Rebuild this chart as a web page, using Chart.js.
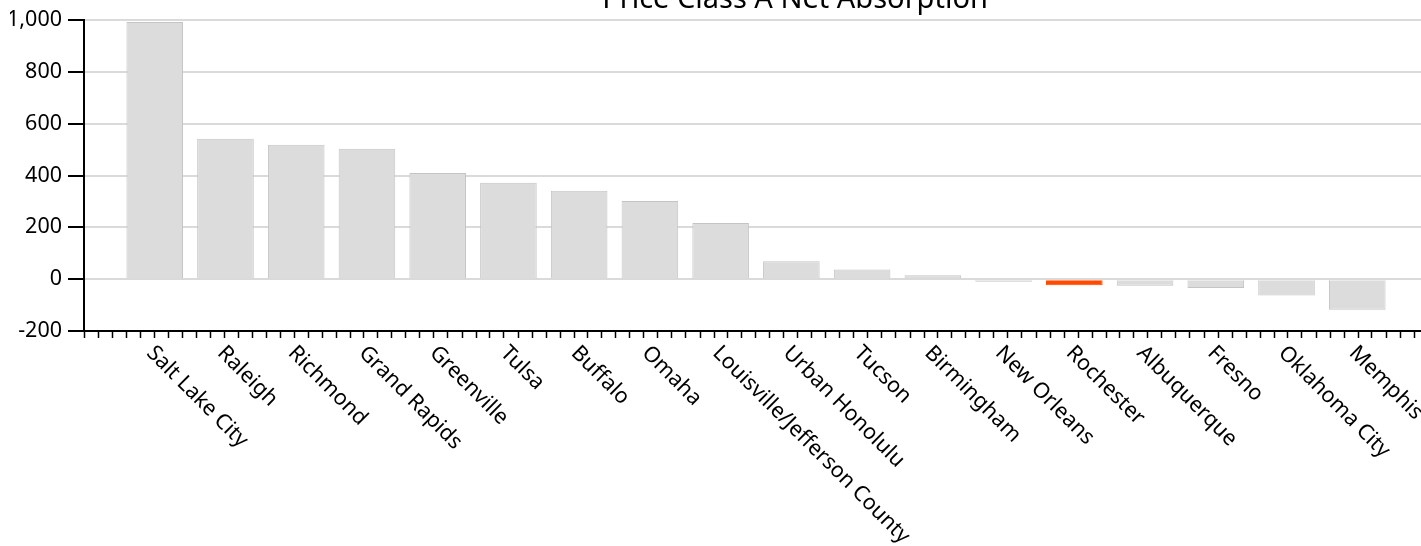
<!DOCTYPE html>
<html>
<head>
<meta charset="utf-8">
<title>Price Class A Net Absorption</title>
<script src="https://cdn.jsdelivr.net/npm/chart.js@4"></script>
<style>
  html, body { margin: 0; padding: 0; background: #fff; overflow: hidden; }
  #frame { width: 1421px; height: 546px; overflow: hidden; }
  #wrap { position: relative; width: 1428px; height: 546px; }
</style>
</head>
<body>
<div id="frame"><div id="wrap"><canvas id="absorption"></canvas></div></div>
<script>
const title = 'Price Class A Net Absorption';
const cities = ['Salt Lake City', 'Raleigh', 'Richmond', 'Grand Rapids', 'Greenville', 'Tulsa',
  'Buffalo', 'Omaha', 'Louisville/Jefferson County', 'Urban Honolulu', 'Tucson', 'Birmingham',
  'New Orleans', 'Rochester', 'Albuquerque', 'Fresno', 'Oklahoma City', 'Memphis'];
const netAbsorption = [992, 542, 519, 503, 410, 372, 341, 302, 217, 69, 37, 15, -10, -23, -25, -34, -63, -118];
const highlighted = 'Rochester';
const yTicks = [-200, 0, 200, 400, 600, 800, 1000];

Chart.defaults.font.family = '"Noto Sans", sans-serif';
Chart.defaults.color = '#000';

// one empty slot on each side, like the original axis
const labels = ['', ...cities, ''];
const values = [null, ...netAbsorption, null];
const fills = labels.map(c => c === highlighted ? '#ff4a00' : '#dcdcdc');
const borders = labels.map(c => c === highlighted ? '#ff4a00' : '#c4c4c4');

// rotated city names + title (text only)
const textPlugin = {
  id: 'textPlugin',
  afterDraw(chart) {
    const { ctx, chartArea, scales: { x } } = chart;
    ctx.save();
    ctx.fillStyle = '#000';
    ctx.font = '21.5px "Noto Sans"';
    ctx.textAlign = 'left';
    ctx.textBaseline = 'alphabetic';
    cities.forEach((c, i) => {
      ctx.save();
      ctx.translate(x.getPixelForValue(i + 1) - 9, chartArea.bottom + 23);
      ctx.rotate(Math.PI / 4);
      ctx.fillText(c, 0, 0);
      ctx.restore();
    });
    ctx.font = '29px "Noto Sans"';
    ctx.textAlign = 'center';
    ctx.fillText(title, 795, 8);
    ctx.restore();
  }
};

new Chart(document.getElementById('absorption'), {
  type: 'bar',
  data: {
    labels,
    datasets: [{
      label: title,
      data: values,
      backgroundColor: fills,
      borderColor: borders,
      borderWidth: 1,
      barPercentage: 0.8,
      categoryPercentage: 1
    }]
  },
  options: {
    responsive: true,
    maintainAspectRatio: false,
    animation: false,
    layout: { padding: { top: 20, left: 10, right: 0, bottom: 208 } },
    plugins: { legend: { display: false }, tooltip: { enabled: false } },
    scales: {
      x: { display: false, offset: false },
      xMinor: {
        type: 'linear',
        position: 'bottom',
        min: 0,
        max: labels.length - 1,
        ticks: { display: false, stepSize: 0.2, autoSkip: false },
        grid: { drawOnChartArea: false, tickLength: 7, tickColor: '#000', tickWidth: 1.5 },
        border: { color: '#000', width: 2, z: 1 }
      },
      y: {
        min: yTicks[0],
        max: yTicks[yTicks.length - 1],
        afterFit: s => { s.width = 74; },
        ticks: { stepSize: 200, padding: 6, font: { size: 21.5 } },
        grid: { color: '#dadada', lineWidth: 2, tickColor: '#000', tickWidth: 2, tickLength: 16 },
        border: { color: '#000', width: 2, z: 1 }
      }
    }
  },
  plugins: [textPlugin]
});
</script>
</body>
</html>
